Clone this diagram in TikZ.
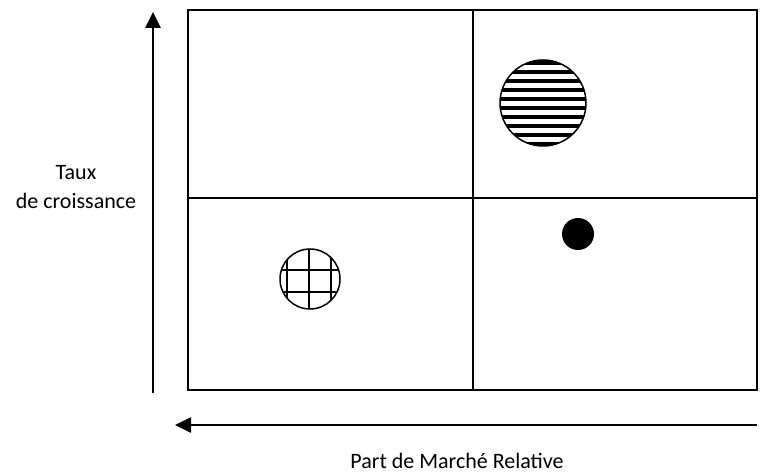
\documentclass[tikz,border=0pt]{standalone}
\usepackage{fontspec}
\setmainfont{Carlito}
\usetikzlibrary{arrows.meta}
\begin{document}
\begin{tikzpicture}[x=1pt,y=-1pt,
  frame/.style={draw=black, line width=1.3pt},
  axis/.style={line width=2.6pt, -{Triangle[length=16pt,width=15pt]}},
  axislabel/.style={font=\fontsize{22}{29}\selectfont, align=center}]
\useasboundingbox (0,0) rectangle (766,473);
% matrix frame and quadrants
\draw[frame] (188,10) rectangle (757,390);
\draw[frame] (473,10) -- (473,390);
\draw[frame] (188,198) -- (757,198);
% axes
\coordinate (ys) at (153,393);
\coordinate (ye) at (153,12);
\coordinate (xs) at (757,425);
\coordinate (xe) at (175,425);
\draw[axis] (ys) -- (ye);
\draw[axis] (xs) -- (xe);
% axis labels
\node[axislabel] (ylab) at (76,187) {Taux\\de croissance};
\node[axislabel] (xlab) at (457,461) {Part de Marché Relative};
% striped circle
\begin{scope}
  \clip (543,103) circle (43);
  \foreach \y in {63,72,...,147} \draw[line width=4pt] (495,\y) -- (591,\y);
\end{scope}
\node[circle, draw, line width=1.5pt, minimum size=86pt, inner sep=0pt] (star) at (543,103) {};
% grid circle
\begin{scope}
  \clip (310,279) circle (30);
  \foreach \x in {287,309,331} \draw[line width=2pt] (\x,245) -- (\x,313);
  \foreach \y in {270,292} \draw[line width=2pt] (276,\y) -- (344,\y);
\end{scope}
\node[circle, draw, line width=1.5pt, minimum size=60pt, inner sep=0pt] (dog) at (310,279) {};
% solid dot
\node[circle, fill=black, minimum size=32pt, inner sep=0pt] (cow) at (578,234) {};
\end{tikzpicture}
\end{document}
